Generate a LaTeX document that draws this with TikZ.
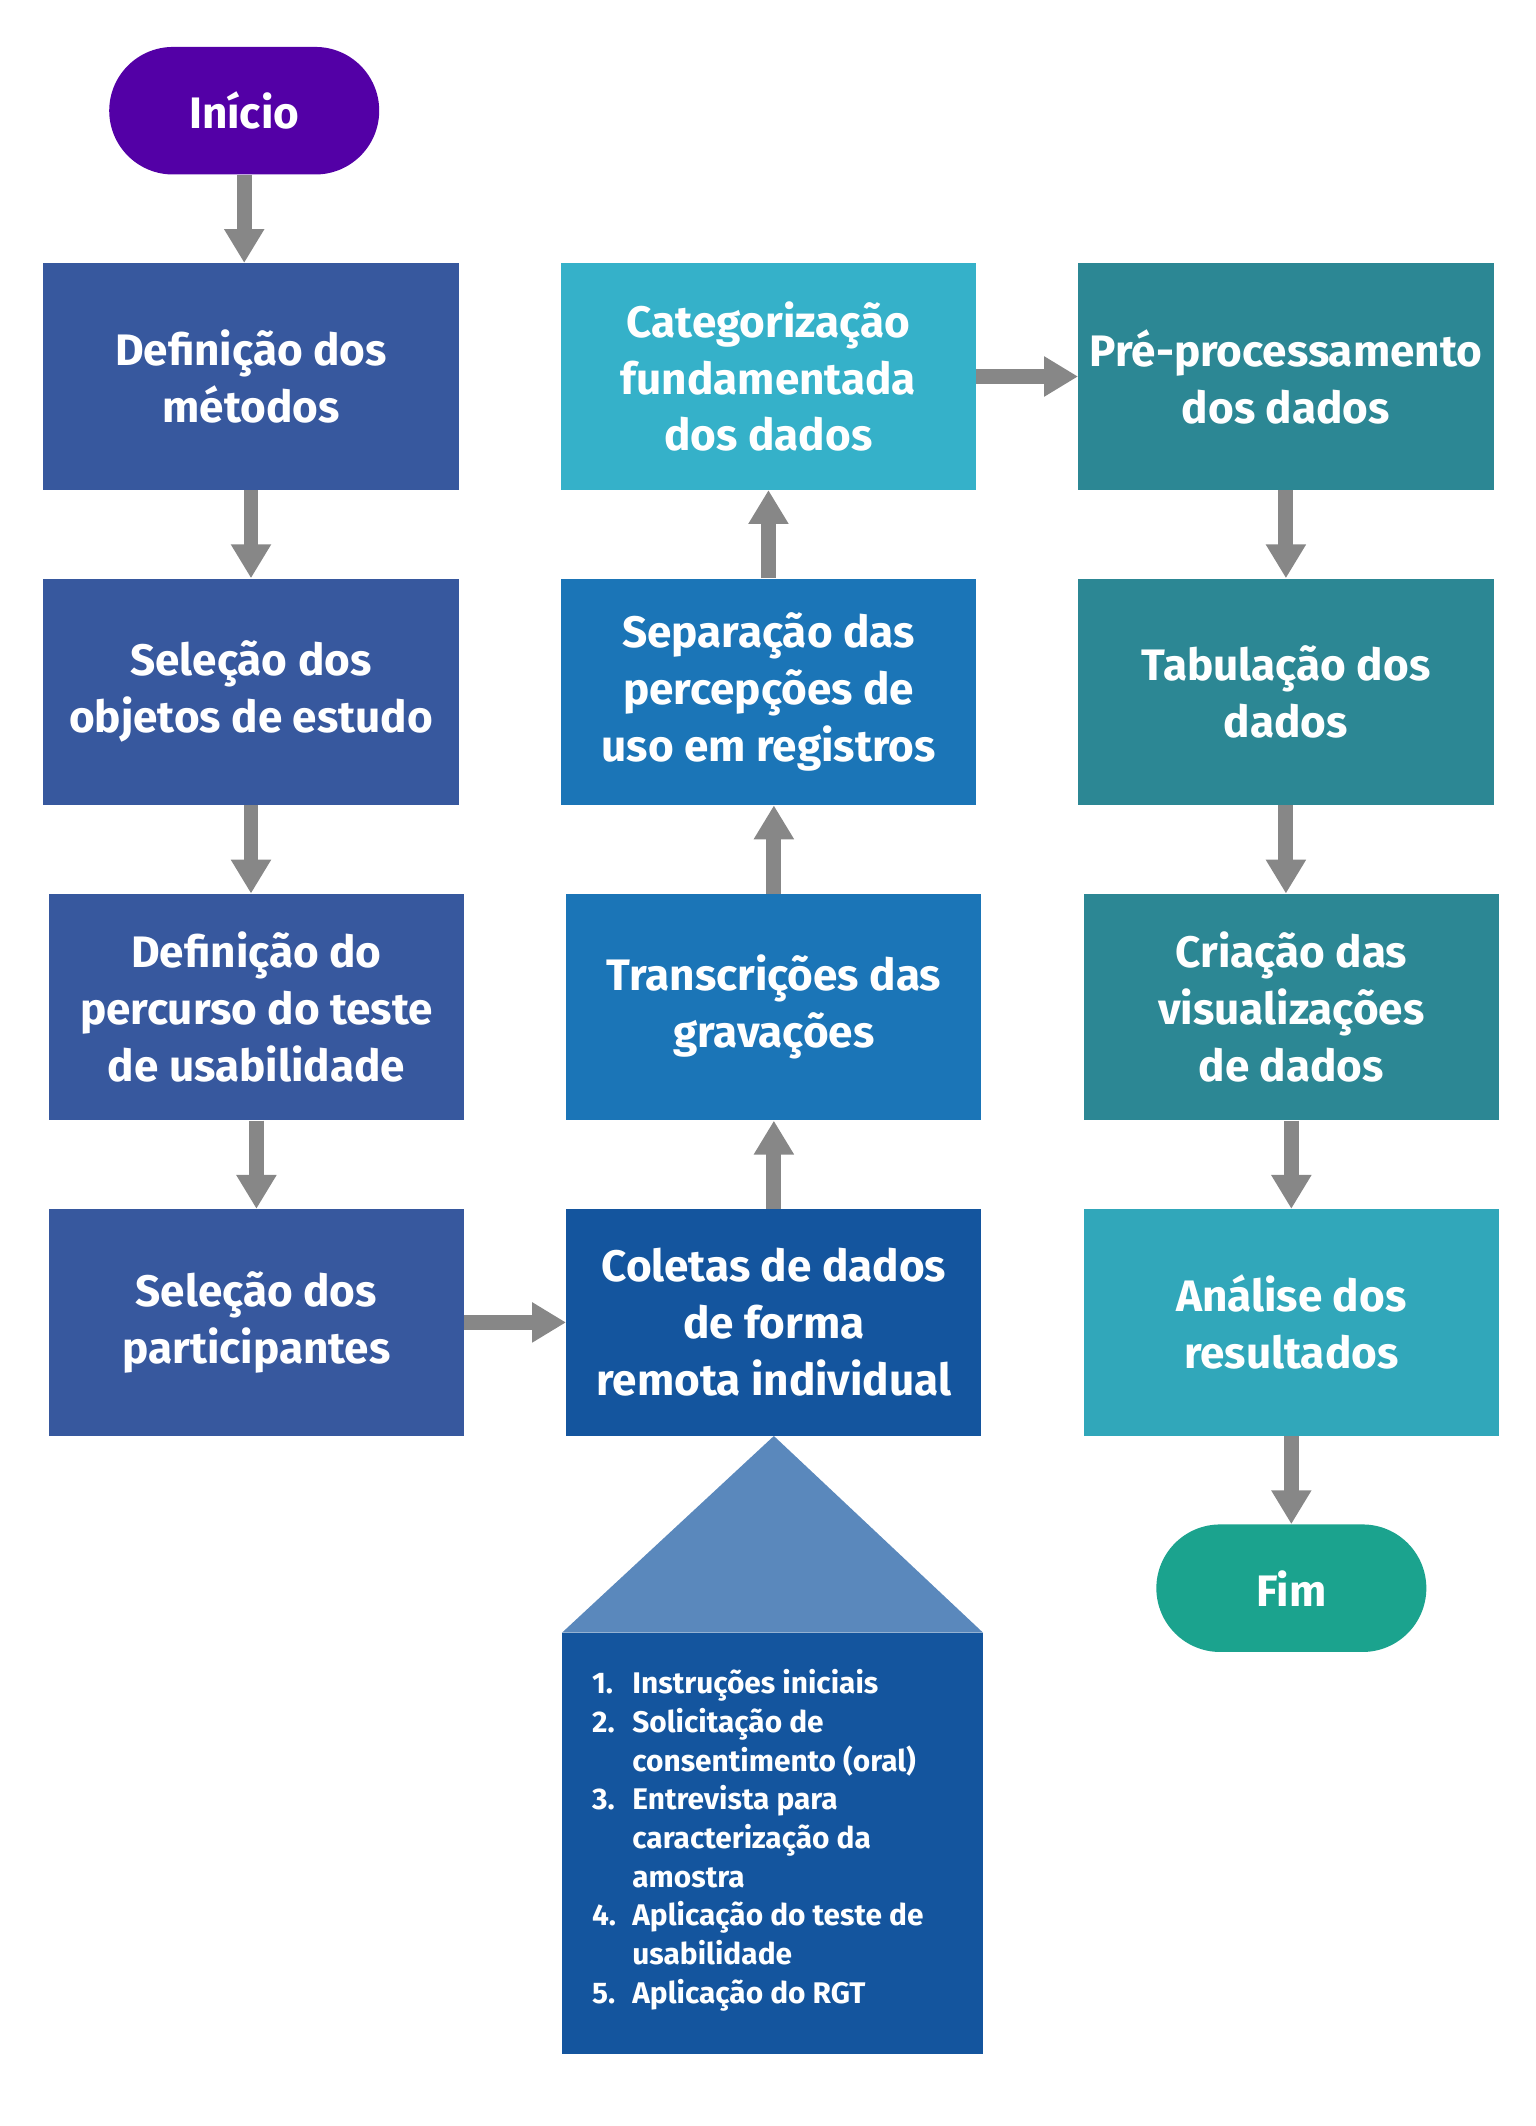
\documentclass[tikz,border=0pt]{standalone}
\usepackage{fontspec}
\setmainfont{Fira Sans}
\usetikzlibrary{positioning,arrows.meta}
\definecolor{startpurple}{HTML}{5300A6}
\definecolor{methodblue}{HTML}{37589E}
\definecolor{catcyan}{HTML}{35B1C9}
\definecolor{sepblue}{HTML}{1B75B7}
\definecolor{coletablue}{HTML}{14559E}
\definecolor{roofblue}{HTML}{5A88BC}
\definecolor{datateal}{HTML}{2C8794}
\definecolor{analisecyan}{HTML}{31A7BA}
\definecolor{endgreen}{HTML}{1BA38E}
\definecolor{arrowgray}{HTML}{878787}
\begin{document}
\begin{tikzpicture}[
                    node distance=65pt,
                    >={Triangle[length=25pt,width=28pt]},
                    box/.style={rectangle, minimum width=306pt, minimum height=167pt, inner sep=0pt, text=white, align=center, font=\bfseries\fontsize{32.5}{42}\selectfont},
                    terminal/.style={rectangle, rounded corners=47pt, minimum width=199pt, minimum height=94pt, inner sep=0pt, text=white, font=\bfseries\fontsize{32.5}{42}\selectfont},
                    arr/.style={->, draw=arrowgray, line width=11pt}
                    ]

                    \useasboundingbox (0,0) rectangle (1132pt,-1567pt);

                    \node [box, fill=methodblue] (metodos) at (185pt,-277.5pt) {Definição dos\\métodos};
                    \node [terminal, fill=startpurple, above=65pt of metodos, xshift=-5pt] (inicio) {Início};
                    \node [box, fill=methodblue, below=of metodos] (objetos) {Seleção dos\\objetos de estudo};
                    \node [box, fill=methodblue, below=of objetos, xshift=4pt] (percurso) {Definição do\\percurso do teste\\de usabilidade};
                    \node [box, fill=methodblue, below=of percurso] (participantes) {Seleção dos\\participantes};

                    \node [box, fill=catcyan, right=75pt of metodos] (categorizacao) {Categorização\\fundamentada\\dos dados};
                    \node [box, fill=sepblue, below=of categorizacao] (separacao) {Separação das\\percepções de\\uso em registros};
                    \node [box, fill=sepblue, below=of separacao, xshift=4pt] (transcricoes) {Transcrições das\\gravações};
                    \node [box, fill=coletablue, below=of transcricoes] (coletas) {Coletas de dados\\de forma\\remota individual};
                    \node [rectangle, fill=coletablue, minimum width=310pt, minimum height=310pt, inner sep=0pt, below=145pt of coletas, xshift=-1pt] (etapas) {};
                    \node [anchor=north west, inner sep=0pt, text=white, font=\bfseries\fontsize{22}{28.5}\selectfont] (lista) at ([xshift=22pt,yshift=-25pt]etapas.north west) {%
                        \begin{tabular}{@{}l@{\hspace{12pt}}l@{}}
                        1. & Instruções iniciais\\
                        2. & Solicitação de\\
                           & consentimento (oral)\\
                        3. & Entrevista para\\
                           & caracterização da\\
                           & amostra\\
                        4. & Aplicação do teste de\\
                           & usabilidade\\
                        5. & Aplicação do RGT
                        \end{tabular}};
                    \fill [roofblue] (etapas.north west) -- (coletas.south) -- (etapas.north east) -- cycle;

                    \node [box, fill=datateal, right=75pt of categorizacao] (preproc) {Pré-processamento\\dos dados};
                    \node [box, fill=datateal, below=of preproc] (tabulacao) {Tabulação dos\\dados};
                    \node [box, fill=datateal, below=of tabulacao, xshift=4pt] (visualizacoes) {Criação das\\visualizações\\de dados};
                    \node [box, fill=analisecyan, below=of visualizacoes] (analise) {Análise dos\\resultados};
                    \node [terminal, fill=endgreen, below=of analise] (fim) {Fim};

                    \draw [arr] (inicio.south) -- (inicio.south |- metodos.north);
                    \draw [arr] (metodos.south) -- (metodos.south |- objetos.north);
                    \draw [arr] (objetos.south) -- (objetos.south |- percurso.north);
                    \draw [arr] (percurso) -- (participantes);
                    \draw [arr] (participantes) -- (coletas);
                    \draw [arr] (coletas.north) -- (coletas.north |- transcricoes.south);
                    \draw [arr] (transcricoes.north) -- (transcricoes.north |- separacao.south);
                    \draw [arr] (separacao) -- (categorizacao);
                    \draw [arr] (categorizacao) -- (preproc);
                    \draw [arr] (preproc) -- (tabulacao);
                    \draw [arr] (tabulacao.south) -- (tabulacao.south |- visualizacoes.north);
                    \draw [arr] (visualizacoes) -- (analise);
                    \draw [arr] (analise) -- (fim);
                \end{tikzpicture}
\end{document}
